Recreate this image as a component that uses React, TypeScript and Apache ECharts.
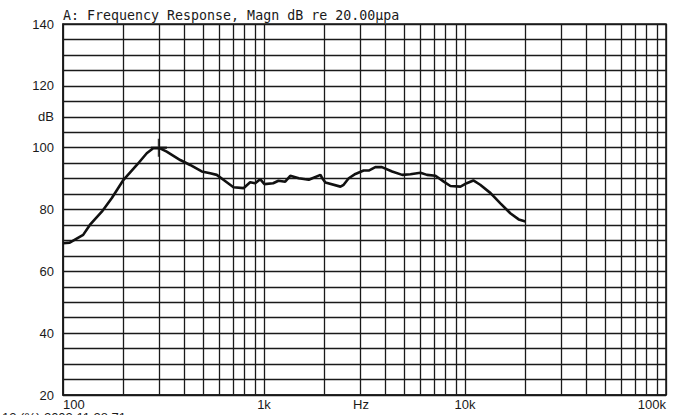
import React, { useEffect, useRef } from "react";
import * as echarts from "echarts";

const titleText = "A: Frequency Response, Magn dB re 20.00\u00b5pa";
const footerText = "12.(%) 2002 11:28:71";

// Frequency (Hz) and magnitude (dB)
const freqs = [
  100, 108, 126, 136, 156, 175, 200, 233, 261, 281, 304, 328, 383, 429, 490, 540, 582, 628,
  705, 791, 853, 904, 957, 1005, 1110, 1180, 1275, 1351, 1490, 1670, 1910, 1950, 2020, 2400,
  2490, 2640, 2850, 3130, 3320, 3580, 3860, 4340, 4870, 5350, 6000, 6470, 7130, 7840, 8460,
  9490, 10200, 11000, 11900, 13400, 15000, 16800, 18500, 20000,
];
const magnitudes = [
  69.1, 69.3, 71.8, 75.0, 79.3, 83.7, 89.6, 94.4, 98.2, 99.8, 99.8, 98.7, 96.0, 94.4, 92.3,
  91.7, 91.2, 89.6, 87.2, 86.9, 88.8, 88.5, 89.8, 88.2, 88.5, 89.3, 89.0, 90.9, 90.1, 89.6,
  91.2, 90.1, 88.7, 87.4, 88.0, 90.1, 91.5, 92.6, 92.6, 93.7, 93.7, 92.3, 91.2, 91.4, 91.9,
  91.2, 90.9, 89.0, 87.6, 87.4, 88.5, 89.4, 88.0, 85.3, 82.0, 78.8, 76.8, 76.1,
];
const markerPoint = [300, 100];

// Log-grid minor lines (2..9 within each decade)
const decadeStarts = [100, 1000, 10000];
const minorMultipliers = [2, 3, 4, 5, 6, 7, 8, 9];
const xTickLabels: Record<number, string> = { 100: "100", 1000: "1k", 10000: "10k", 100000: "100k" };

export default function App() {
  const ref = useRef<HTMLDivElement>(null);
  useEffect(() => {
    if (!ref.current) return;
    const chart = echarts.init(ref.current, null, { renderer: "svg" });
    const ink = "#1a1a1a";
    const font = "'Liberation Sans', Arial, sans-serif";
    const minorLines: any[] = [];
    decadeStarts.forEach((d) => minorMultipliers.forEach((m) => minorLines.push({ xAxis: d * m })));

    chart.setOption({
      animation: false,
      backgroundColor: "#fff",
      grid: {
        left: 63,
        right: 15,
        top: 24,
        bottom: 20,
        show: true,
        borderColor: ink,
        borderWidth: 1.5,
        backgroundColor: "transparent",
      },
      xAxis: {
        type: "log",
        logBase: 10,
        min: 100,
        max: 100000,
        axisLine: { show: true, lineStyle: { color: ink, width: 1.5 } },
        axisTick: { show: false },
        splitLine: { show: true, lineStyle: { color: ink, width: 1.3 } },
        axisLabel: {
          color: ink,
          fontFamily: font,
          fontSize: 13,
          margin: 3,
          alignMinLabel: "left",
          alignMaxLabel: "right",
          formatter: (v: number) => xTickLabels[Math.round(v)] ?? "",
        },
      },
      yAxis: {
        type: "value",
        min: 20,
        max: 140,
        interval: 5,
        axisLine: { show: true, lineStyle: { color: ink, width: 1.5 } },
        axisTick: { show: false },
        splitLine: { show: true, lineStyle: { color: ink, width: 1.3 } },
        axisLabel: {
          color: ink,
          fontFamily: font,
          fontSize: 13,
          margin: 9,
          formatter: (v: number) => (v % 20 === 0 ? String(v) : v === 110 ? "dB" : ""),
        },
      },
      graphic: [
        {
          type: "text",
          left: 63,
          top: 9,
          style: { text: titleText, fill: ink, font: "13.3px 'DejaVu Sans Mono', monospace" },
        },
        {
          type: "text",
          left: 353,
          top: 398,
          style: { text: "Hz", fill: ink, font: `13px ${font}` },
        },
        {
          type: "text",
          left: 2,
          top: 411,
          style: { text: footerText, fill: ink, font: `13px ${font}` },
        },
      ],
      series: [
        {
          type: "line",
          data: [],
          z: 1,
          silent: true,
          markLine: {
            silent: true,
            symbol: "none",
            label: { show: false },
            lineStyle: { color: ink, width: 1.3, type: "solid" },
            emphasis: { disabled: true },
            data: minorLines,
          },
        },
        {
          type: "line",
          z: 5,
          data: freqs.map((f, i) => [f, magnitudes[i]]),
          showSymbol: false,
          symbol: "none",
          lineStyle: { color: "#111", width: 2.6 },
        },
        {
          type: "scatter",
          z: 6,
          data: [markerPoint],
          symbol: "path://M-0.14,-1H0.14V1H-0.14Z M-1,-0.14H1V0.14H-1Z",
          symbolSize: [16, 18],
          itemStyle: { color: "#111" },
        },
      ],
    });
    return () => chart.dispose();
  }, []);
  return (
    <div
      ref={ref}
      style={{ position: "fixed", left: 0, top: 0, width: 681, height: 415, background: "#fff" }}
    />
  );
}
